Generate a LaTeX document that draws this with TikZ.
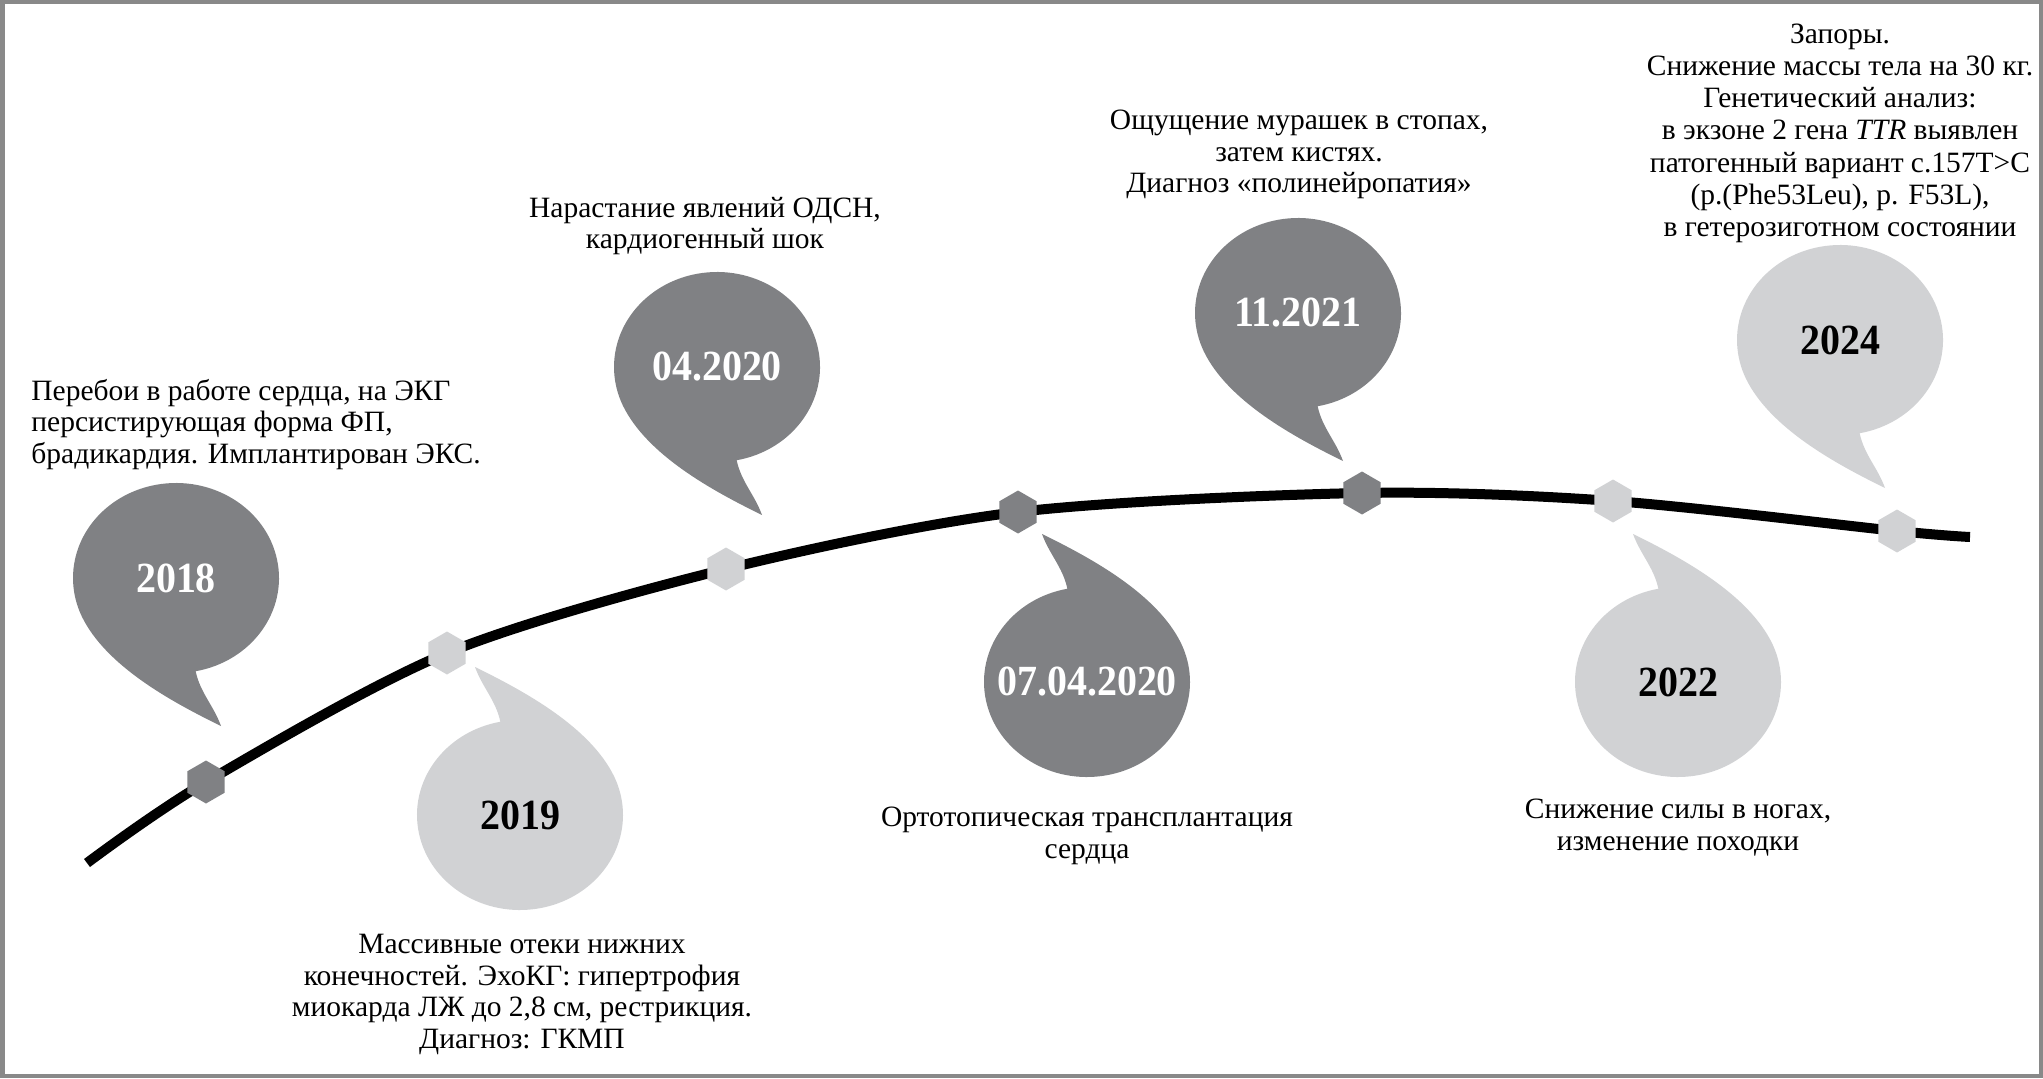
\documentclass[tikz,border=0pt]{standalone}
\usepackage{fontspec}
\setmainfont{Liberation Serif}
\newfontfamily\yearfont{Liberation Serif}[FakeStretch=0.93]
\usepackage{tikz}
\usetikzlibrary{shapes.geometric}

\definecolor{bubbledark}{RGB}{128,129,132}
\definecolor{bubblelight}{RGB}{209,210,212}
\definecolor{framegray}{RGB}{137,137,137}

\tikzset{
	bubble/.pic={
		\path[pic actions] (-79:103 and 95)
			arc[start angle=-79,end angle=204,x radius=103,y radius=95]
			.. controls +(-64:55) and +(154:55) .. (45,-148)
			.. controls +(110:22) and +(-78:22) .. (-79:103 and 95) -- cycle;
	},
	hexmark/.style={regular polygon,regular polygon sides=6,shape border rotate=30,
		minimum size=21.5pt,inner sep=0pt,draw=none},
	event/.style={font=\fontsize{14.75pt}{15.75pt}\selectfont,inner sep=0pt,align=center,anchor=base},
	year/.style={font=\yearfont\fontsize{21.5pt}{24pt}\bfseries\selectfont,inner sep=0pt},
	timeline/.style={line width=5pt,black}
}

\begin{document}
\begin{tikzpicture}[x=0.5pt,y=0.5pt]
	\useasboundingbox (0,0) rectangle (2043,1078);
	\draw[framegray,line width=2.25pt] (2.25,2.25) rectangle (2040.75,1075.75);
	
	% points on the time line
	\coordinate (s) at (87,215);
	\coordinate (p1) at (206,296);
	\coordinate (p2) at (447,425);
	\coordinate (p3) at (726,509);
	\coordinate (p4) at (1018,566);
	\coordinate (p5) at (1362,585);
	\coordinate (p6) at (1613,577);
	\coordinate (p7) at (1897,547);
	\coordinate (e) at (1970,541);
	
	\draw[timeline] plot[smooth] coordinates {(s) (p1) (p2) (p3) (p4) (p5) (p6) (p7) (e)};
	
	\node[hexmark,fill=bubbledark] (h1) at (p1) {};
	\node[hexmark,fill=bubblelight] (h2) at (p2) {};
	\node[hexmark,fill=bubblelight] (h3) at (p3) {};
	\node[hexmark,fill=bubbledark] (h4) at (p4) {};
	\node[hexmark,fill=bubbledark] (h5) at (p5) {};
	\node[hexmark,fill=bubblelight] (h6) at (p6) {};
	\node[hexmark,fill=bubblelight] (h7) at (p7) {};
	
	% bubbles
	\coordinate (b2018) at (176,500);
	\coordinate (b2019) at (520,263);
	\coordinate (b0420) at (717,711);
	\coordinate (b070420) at (1087,396);
	\coordinate (b1121) at (1298,765);
	\coordinate (b2022) at (1678,396);
	\coordinate (b2024) at (1840,738);
	
	\pic[fill=bubbledark] at (b2018) {bubble};
	\pic[fill=bubblelight,rotate=180] at (b2019) {bubble};
	\pic[fill=bubbledark] at (b0420) {bubble};
	\pic[fill=bubbledark,rotate=180] at (b070420) {bubble};
	\pic[fill=bubbledark] at (b1121) {bubble};
	\pic[fill=bubblelight,rotate=180] at (b2022) {bubble};
	\pic[fill=bubblelight] at (b2024) {bubble};
	
	\node[year,white] (y2018) at (b2018) {2018};
	\node[year] (y2019) at (b2019) {2019};
	\node[year,white] (y0420) at (b0420) {04.2020};
	\node[year,white] (y070420) at (b070420) {07.04.2020};
	\node[year,white] (y1121) at (b1121) {11.2021};
	\node[year] (y2022) at (b2022) {2022};
	\node[year] (y2024) at (b2024) {2024};
	
	% texts (base = last line)
	\node[event,align=left,anchor=base west] (t2018) at (31,615)
		{Перебои в работе сердца, на ЭКГ\\персистирующая форма ФП,\\брадикардия. Имплантирован ЭКС.};
	\node[event] (t2019) at (522,30)
		{Массивные отеки нижних\\конечностей. ЭхоКГ: гипертрофия\\миокарда ЛЖ до 2,8 см, рестрикция.\\Диагноз: ГКМП};
	\node[event] (t0420) at (705,829)
		{Нарастание явлений ОДСН,\\кардиогенный шок};
	\node[event] (t070420) at (1087,220)
		{Ортотопическая трансплантация\\сердца};
	\node[event] (t1121) at (1299,885)
		{Ощущение мурашек в стопах,\\затем кистях.\\Диагноз «полинейропатия»};
	\node[event] (t2022) at (1678,228)
		{Снижение силы в ногах,\\изменение походки};
	\node[event,font=\fontsize{14.75pt}{16.07pt}\selectfont] (t2024) at (1840,841.6)
		{Запоры.\\Снижение массы тела на 30 кг.\\Генетический анализ:\\в экзоне 2 гена \textit{TTR} выявлен\\патогенный вариант c.157T>C\\(p.(Phe53Leu), p. F53L),\\в гетерозиготном состоянии};
\end{tikzpicture}
\end{document}
